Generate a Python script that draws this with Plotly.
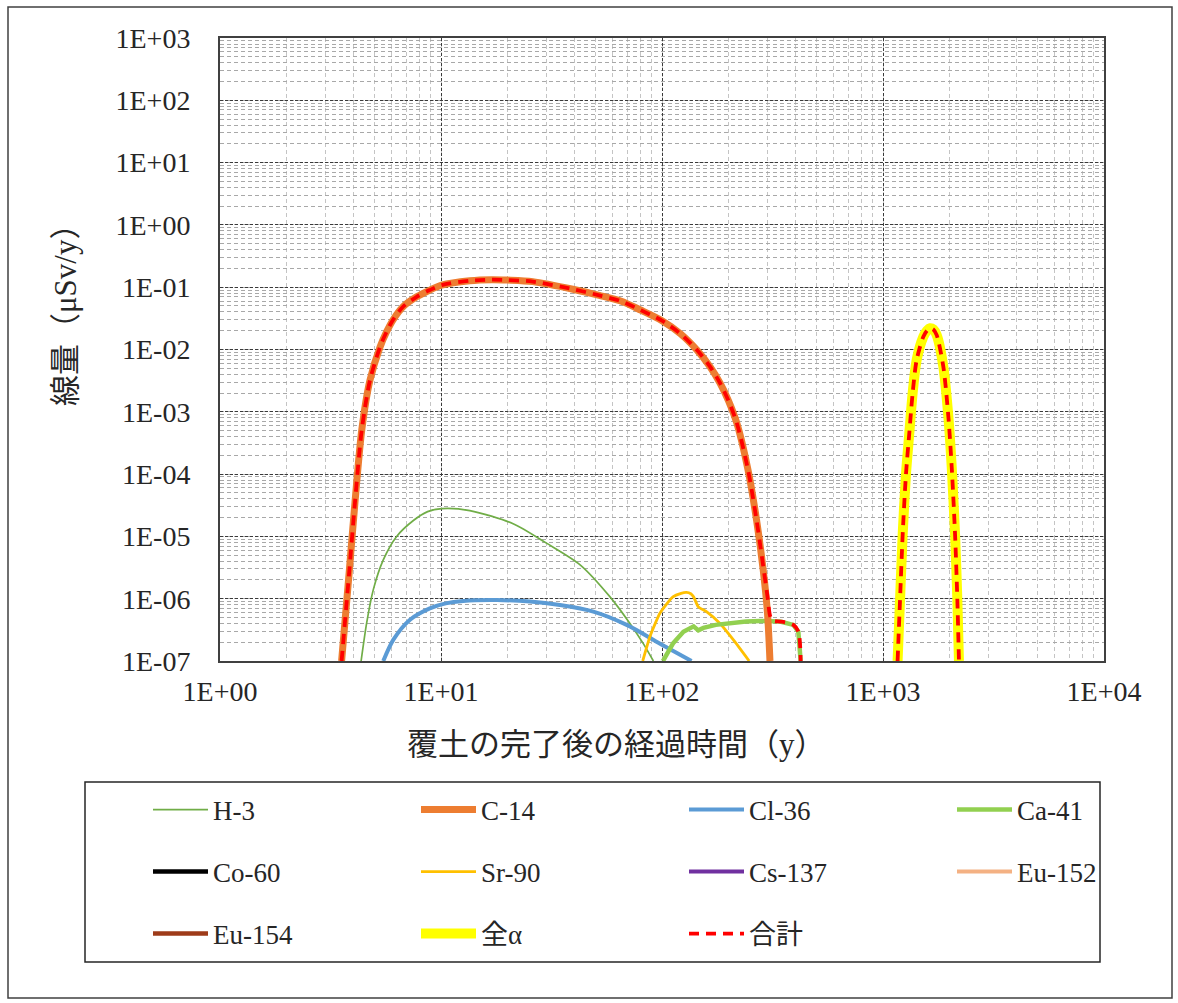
import plotly.graph_objects as go

# ---------------- data ----------------
x_tick_vals = [1, 10, 100, 1000, 10000]
x_tick_labels = ["1E+00", "1E+01", "1E+02", "1E+03", "1E+04"]
y_tick_vals = [1e-7, 1e-6, 1e-5, 1e-4, 1e-3, 1e-2, 1e-1, 1e0, 1e1, 1e2, 1e3]
y_tick_labels = ["1E-07", "1E-06", "1E-05", "1E-04", "1E-03", "1E-02",
                 "1E-01", "1E+00", "1E+01", "1E+02", "1E+03"]

h3_x = [4.35, 4.61, 4.94, 5.48, 6.3, 7.5, 8.7, 10.1, 13.5, 21.2, 30, 42.6, 58.2, 71.6, 82.3, 91.4]
h3_y = [1e-7, 4.1e-7, 1.4e-6, 4.2e-6, 1e-5, 1.8e-5, 2.5e-5, 2.8e-5, 2.6e-5, 1.6e-5,
        7.8e-6, 3.5e-6, 1.07e-6, 4e-7, 1.9e-7, 1e-7]

c14_x = [3.55, 3.85, 4.08, 4.38, 4.77, 5.3, 5.68, 6.07, 6.75, 7.76, 8.9, 10.07, 13.5, 17,
         20, 26, 40, 52, 65, 80, 100, 121, 144, 165, 183, 200, 218, 245, 268, 287, 300, 308]
c14_y = [1e-7, 2.9e-6, 3.5e-5, 5.1e-4, 3.2e-3, 1.1e-2, 1.94e-2, 0.03, 0.049, 0.07, 0.09,
         0.108, 0.127, 0.132, 0.13, 0.123, 0.092, 0.074, 0.06, 0.043, 0.029, 0.018, 0.0098,
         5.3e-3, 2.9e-3, 1.5e-3, 6.6e-4, 1.17e-4, 1.8e-5, 2.9e-6, 6e-7, 1e-7]

cl36_x = [5.48, 6.09, 7.24, 8.9, 10.5, 12.6, 17.9, 25.3, 34.5, 48.9, 69.2, 98, 136]
cl36_y = [1e-7, 2.2e-7, 4.6e-7, 7e-7, 8.4e-7, 9.2e-7, 9.5e-7, 9e-7, 7.9e-7, 6.2e-7,
          3.8e-7, 1.9e-7, 1e-7]

ca41_x = [101, 112, 125, 139, 146, 154, 175, 196, 240, 277, 342, 393, 414, 424]
ca41_y = [1e-7, 1.9e-7, 2.95e-7, 3.6e-7, 3.1e-7, 3.4e-7, 3.8e-7, 4e-7, 4.3e-7, 4.4e-7,
          4.3e-7, 3.8e-7, 2.95e-7, 1e-7]

sr90_x = [81.8, 88.3, 98, 112, 122, 129, 135, 139, 146, 159, 183, 210, 248]
sr90_y = [1e-7, 2.5e-7, 5.9e-7, 1.07e-6, 1.22e-6, 1.26e-6, 1.2e-6, 1.07e-6, 7.4e-7,
          6.2e-7, 4e-7, 2.2e-7, 1e-7]

# nuclides whose dose stays below the plotted range (no drawable point)
co60_x, co60_y = [None], [None]
cs137_x, cs137_y = [None], [None]
eu152_x, eu152_y = [None], [None]
eu154_x, eu154_y = [None], [None]

alpha_x = [1164, 1194, 1228, 1271, 1315, 1362, 1420, 1522, 1580, 1632, 1690, 1750,
           1875, 1976, 2046, 2118, 2170, 2206]
alpha_y = [1e-7, 9.5e-7, 1.1e-5, 1.02e-4, 4.5e-4, 2e-3, 6.8e-3, 0.016, 0.020, 0.022,
           0.021, 0.017, 5.3e-3, 8.3e-4, 1.3e-4, 1.1e-5, 9.5e-7, 1e-7]

total_x = c14_x[:-3] + [300, 310, 320, 342, 393, 414, 424, None] + alpha_x
total_y = c14_y[:-3] + [1.1e-6, 5e-7, 4.4e-7, 4.3e-7, 3.8e-7, 2.95e-7, 1e-7, None] + alpha_y

# ---------------- figure ----------------
SERIF = "Liberation Serif, Noto Sans CJK JP, serif"
TXT = "#262626"

fig = go.Figure()

def add(name, x, y, color, width, legend, rank, dash="solid", smooth=None):
    line = dict(color=color, width=width, dash=dash)
    if smooth:
        line.update(shape="spline", smoothing=smooth)
    fig.add_trace(go.Scatter(
        x=x, y=y, name=name, mode="lines", line=line,
        legend=legend, legendrank=rank, connectgaps=False,
    ))

# drawing order (bottom to top)
add("H-3", h3_x, h3_y, "#70AD47", 1.7, "legend", 1, smooth=0.8)
add("Cl-36", cl36_x, cl36_y, "#5B9BD5", 4, "legend", 3, smooth=0.8)
add("Sr-90", sr90_x, sr90_y, "#FFC000", 2.8, "legend2", 2, smooth=0.5)
add("Ca-41", ca41_x, ca41_y, "#92D050", 4.5, "legend", 4)
add("Co-60", co60_x, co60_y, "#000000", 4.5, "legend2", 1)
add("Cs-137", cs137_x, cs137_y, "#7030A0", 4, "legend2", 3)
add("Eu-152", eu152_x, eu152_y, "#F4B183", 4, "legend2", 4)
add("Eu-154", eu154_x, eu154_y, "#9E3B19", 4.5, "legend3", 1)
add("C-14", c14_x, c14_y, "#ED7D31", 7, "legend", 2, smooth=0.8)
add("全α", alpha_x, alpha_y, "#FFFF00", 10, "legend3", 2, smooth=0.8)
add("合計", total_x, total_y, "#FF0000", 3.8, "legend3", 3, dash="10px,7px", smooth=0.8)

W, H = 1178, 1003
L, R, T, B = 220, 1178 - 1104, 38, 1003 - 661
PW, PH = W - L - R, H - T - B

def px(xp):
    return (xp - L) / PW

def py(yp):
    return (H - B - yp) / PH

leg_common = dict(
    orientation="h", xanchor="left", yanchor="middle",
    x=px(148), entrywidth=198, entrywidthmode="pixels", itemwidth=55,
    font=dict(family=SERIF, size=27, color=TXT),
    bgcolor="rgba(0,0,0,0)", borderwidth=0, traceorder="normal",
)

fig.update_layout(
    width=W, height=H,
    margin=dict(l=L, r=R, t=T, b=B, autoexpand=False),
    paper_bgcolor="white", plot_bgcolor="white",
    showlegend=True,
    legend=dict(leg_common, y=py(810)),
    legend2=dict(leg_common, y=py(872)),
    legend3=dict(leg_common, y=py(934)),
    font=dict(family=SERIF, color=TXT),
)

axis_font = dict(family=SERIF, size=28, color=TXT)

fig.update_xaxes(
    type="log", range=[0, 4], tickmode="array",
    tickvals=x_tick_vals, ticktext=x_tick_labels, tickfont=axis_font,
    showgrid=True, gridcolor="#3a3a3a", gridwidth=1, griddash="3px,2px",
    minor=dict(dtick="D1", showgrid=True, gridcolor="#c4c4c4", gridwidth=1,
               griddash="4px,3px", ticks=""),
    showline=True, mirror=True, linecolor="#404040", linewidth=2,
    ticks="", zeroline=False, ticklabelstandoff=4,
)
fig.update_yaxes(
    type="log", range=[-7, 3], tickmode="array",
    tickvals=y_tick_vals, ticktext=y_tick_labels, tickfont=axis_font,
    showgrid=True, gridcolor="#3a3a3a", gridwidth=1, griddash="3px,2px",
    minor=dict(dtick="D1", showgrid=True, gridcolor="#a8a8a8", gridwidth=1,
               griddash="4px,3px", ticks=""),
    showline=True, mirror=True, linecolor="#404040", linewidth=2,
    ticks="", zeroline=False, ticklabelstandoff=22,
)

# axis titles
fig.add_annotation(text="覆土の完了後の経過時間（y）", xref="paper", yref="paper",
                   x=px(616), y=py(745), xanchor="center", yanchor="middle",
                   showarrow=False, font=dict(family=SERIF, size=31, color=TXT))
fig.add_annotation(text="線量（μSv/y）", xref="paper", yref="paper",
                   x=px(65), y=py(308), xanchor="center", yanchor="middle",
                   showarrow=False, textangle=-90,
                   font=dict(family=SERIF, size=31, color=TXT))

# legend frame and outer frame
fig.add_shape(type="rect", xref="paper", yref="paper",
              x0=px(85), x1=px(1100), y0=py(962), y1=py(782),
              line=dict(color="#262626", width=1.5), fillcolor="rgba(0,0,0,0)", layer="below")
fig.add_shape(type="rect", xref="paper", yref="paper",
              x0=px(8), x1=px(1172), y0=py(998), y1=py(7),
              line=dict(color="#404040", width=1.5), fillcolor="rgba(0,0,0,0)", layer="below")

fig.write_html("out.html",
               config={"displayModeBar": False},
               post_script="document.body.style.margin='0';document.body.style.padding='0';")
